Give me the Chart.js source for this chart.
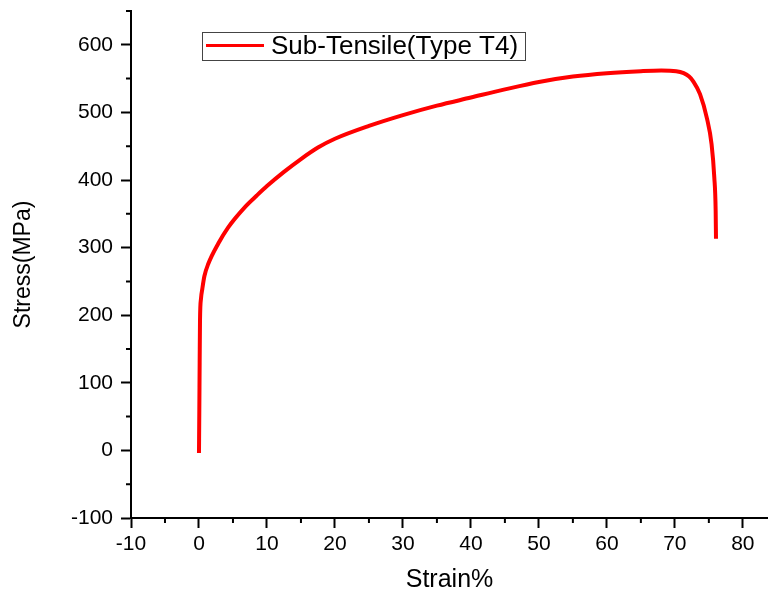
<!DOCTYPE html>
<html>
<head>
<meta charset="utf-8">
<script src="https://cdn.jsdelivr.net/npm/chart.js@4.4.1/dist/chart.umd.min.js"></script>
<style>
  html, body { margin: 0; padding: 0; background: #fff; }
  #wrap { width: 768px; height: 596px; position: relative; }
</style>
</head>
<body>
<div id="wrap"><canvas id="stressChart"></canvas></div>
<script>
// Engineering strain (%) and stress (MPa) of the T4 sub-size tensile specimen
const strain = [0, 0.05, 0.1, 0.15, 0.3, 0.49, 0.8, 1.37, 2.84, 4.3, 6.76, 8.5, 10, 12.5, 15, 17.5, 20, 25, 30, 35, 40, 45, 50, 55, 60, 65, 68, 70.2, 71.3, 72.1, 72.7, 73.7, 74.7, 75.4, 75.8, 76.0, 76.05];
const stress = [-4, 60, 130, 192, 225, 239, 258, 276, 306, 330, 360, 377, 391, 412, 431, 448, 461, 480, 496, 510, 522, 534, 545, 553, 558, 561, 562, 561, 558, 553, 546, 527, 492, 453, 404, 355, 313];

const xTicks = [-10, 0, 10, 20, 30, 40, 50, 60, 70, 80];
const yTicks = [-100, 0, 100, 200, 300, 400, 500, 600];
const xMinor = [-5, 5, 15, 25, 35, 45, 55, 65, 75];
const yMinor = [-50, 50, 150, 250, 350, 450, 550, 650];

const seriesLabel = 'Sub-Tensile(Type T4)';
const FONT = '"Liberation Sans", Arial, sans-serif';

// small outward minor ticks between the labelled ones
const minorTicks = {
    id: 'minorTicks',
    afterDraw(chart) {
        const c = chart.ctx, xs = chart.scales.x, ys = chart.scales.y;
        const area = chart.chartArea;
        c.save();
        c.strokeStyle = '#000';
        c.lineWidth = 2;
        c.beginPath();
        xMinor.forEach(v => {
            const px = xs.getPixelForValue(v);
            c.moveTo(px, area.bottom);
            c.lineTo(px, area.bottom + 5);
        });
        yMinor.forEach(v => {
            const py = ys.getPixelForValue(v);
            c.moveTo(area.left, py);
            c.lineTo(area.left - 5, py);
        });
        c.stroke();
        c.restore();
    }
};

// boxed legend sitting inside the plot
const boxLegend = {
    id: 'boxLegend',
    afterDraw(chart) {
        const c = chart.ctx;
        const ds = chart.data.datasets[0];
        c.save();
        c.strokeStyle = '#444';
        c.lineWidth = 1;
        c.strokeRect(202.5, 32.5, 323, 28);
        c.strokeStyle = ds.borderColor;
        c.lineWidth = 3;
        c.beginPath();
        c.moveTo(206, 45.5);
        c.lineTo(264, 45.5);
        c.stroke();
        c.fillStyle = '#000';
        c.font = '26px ' + FONT;
        c.textBaseline = 'middle';
        c.fillText(ds.label, 271, 47);
        c.restore();
    }
};

new Chart(document.getElementById('stressChart'), {
    type: 'scatter',
    data: {
        datasets: [{
            label: seriesLabel,
            data: strain.map((s, i) => ({ x: s, y: stress[i] })),
            showLine: true,
            borderColor: '#ff0000',
            borderWidth: 4,
            pointRadius: 0,
            cubicInterpolationMode: 'monotone',
            fill: false
        }]
    },
    options: {
        responsive: true,
        maintainAspectRatio: false,
        animation: false,
        layout: { padding: { left: 0, top: 11, right: 0, bottom: 0 } },
        plugins: {
            legend: { display: false },
            tooltip: { enabled: false }
        },
        scales: {
            x: {
                type: 'linear',
                min: -10,
                max: 83.7,
                afterBuildTicks: s => { s.ticks = xTicks.map(v => ({ value: v })); },
                afterFit: s => { s.height = 78; s.paddingRight = 0; },
                grid: { drawOnChartArea: false, drawTicks: true, tickLength: 10, tickWidth: 2, tickColor: '#000' },
                border: { display: true, color: '#000', width: 2 },
                ticks: { color: '#000', padding: 4, font: { family: FONT, size: 21 } },
                title: { display: true, text: 'Strain%', color: '#000', padding: { top: 0, bottom: 1 }, font: { family: FONT, size: 25 } }
            },
            y: {
                type: 'linear',
                min: -100,
                max: 650,
                afterBuildTicks: s => { s.ticks = yTicks.map(v => ({ value: v })); },
                afterFit: s => { s.width = 131; s.paddingTop = 0; s.paddingBottom = 0; },
                grid: { drawOnChartArea: false, drawTicks: true, tickLength: 10, tickWidth: 2, tickColor: '#000' },
                border: { display: true, color: '#000', width: 2 },
                ticks: { color: '#000', padding: 8, font: { family: FONT, size: 21 } },
                title: { display: true, text: 'Stress(MPa)', color: '#000', padding: { top: 10, bottom: 0 }, font: { family: FONT, size: 23 } }
            }
        }
    },
    plugins: [minorTicks, boxLegend]
});
</script>
</body>
</html>
